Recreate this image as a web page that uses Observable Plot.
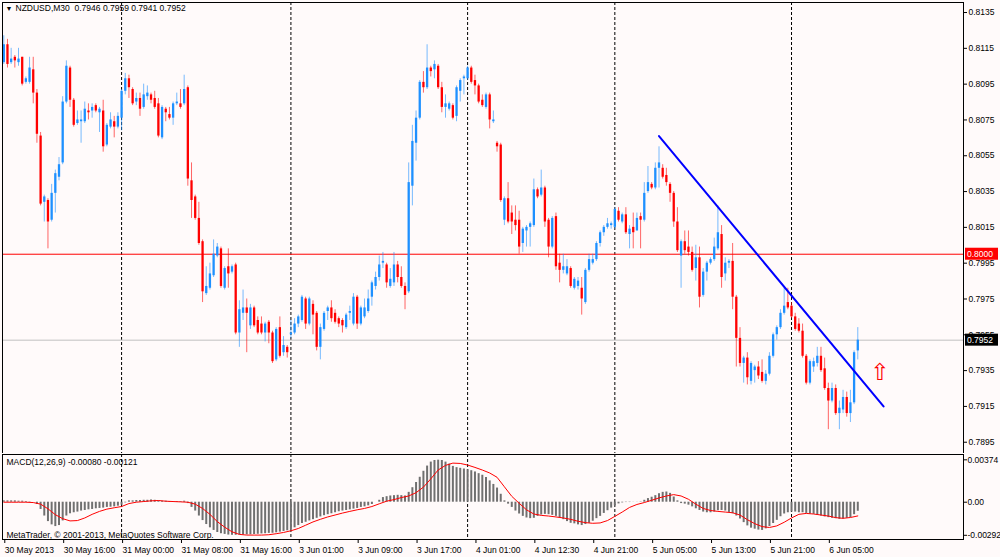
<!DOCTYPE html>
<html><head><meta charset="utf-8">
<script src="https://cdn.jsdelivr.net/npm/d3@7"></script>
<script src="https://cdn.jsdelivr.net/npm/@observablehq/plot@0.6"></script>
<style>
html,body{margin:0;padding:0;background:#fffafa;}
#chart{position:relative;width:1000px;height:557px;overflow:hidden;background:#fffafa;}
#chart svg{position:absolute;left:0;}
</style></head><body><div id="chart"></div>
<script>
// ---- price data (M30 bars, index 0 = 30 May 08:00) ----
const open = [
0.8107,0.8117,0.8107,0.8110,0.8107,0.8110,0.8096,0.8096,0.8103,0.8090,
0.8066,0.8029,0.8030,0.8019,0.8034,0.8043,0.8051,0.8085,0.8104,0.8086,
0.8073,0.8074,0.8074,0.8080,0.8080,0.8083,0.8079,0.8080,0.8061,0.8071,
0.8074,0.8071,0.8076,0.8091,0.8098,0.8092,0.8085,0.8087,0.8082,0.8088,
0.8089,0.8087,0.8084,0.8065,0.8081,0.8078,0.8076,0.8084,0.8084,0.8084,
0.8093,0.8041,0.8032,0.8020,0.8007,0.7978,0.7981,0.7988,0.7999,0.8003,
0.7981,0.7993,0.7990,0.7994,0.7956,0.7967,0.7970,0.7960,0.7970,0.7963,
0.7961,0.7956,0.7962,0.7956,0.7941,0.7959,0.7945,0.7948,0.7955,0.7956,
0.7961,0.7963,0.7975,0.7961,0.7972,0.7967,0.7948,0.7958,0.7968,0.7970,
0.7967,0.7964,0.7963,0.7959,0.7967,0.7961,0.7976,0.7961,0.7965,0.7968,
0.7976,0.7982,0.7987,0.7995,0.7994,0.7982,0.7984,0.7994,0.7987,0.7982,
0.7979,0.8038,0.8062,0.8076,0.8096,0.8093,0.8104,0.8103,0.8105,0.8093,
0.8082,0.8081,0.8083,0.8077,0.8091,0.8098,0.8098,0.8104,0.8097,0.8094,
0.8086,0.8082,0.8089,0.8074,0.8062,0.8061,0.8019,0.8031,0.8023,0.8019,
0.8019,0.8006,0.8013,0.8015,0.8016,0.8036,0.8033,0.8037,0.8019,0.8004,
0.8021,0.7995,0.7991,0.7989,0.7992,0.7981,0.7982,0.7981,0.7973,0.7991,
0.7995,0.7997,0.8006,0.8012,0.8015,0.8016,0.8015,0.8024,0.8018,0.8022,
0.8011,0.8015,0.8013,0.8021,0.8019,0.8035,0.8039,0.8037,0.8048,0.8048,
0.8044,0.8039,0.8034,0.8018,0.7999,0.8007,0.8004,0.8001,0.7992,0.7998,
0.7977,0.7990,0.7995,0.7997,0.8003,0.8011,0.7989,0.7995,0.7996,0.7976,
0.7953,0.7939,0.7942,0.7929,0.7935,0.7937,0.7934,0.7929,0.7933,0.7943,
0.7955,0.7959,0.7967,0.7973,0.7971,0.7965,0.7961,0.7957,0.7943,0.7928,
0.7937,0.7939,0.7943,0.7936,0.7925,0.7918,0.7925,0.7911,0.7913,0.7920,
0.7911,0.7917,0.7946];
const high = [
0.8122,0.8120,0.8115,0.8111,0.8115,0.8110,0.8099,0.8110,0.8110,0.8092,
0.8068,0.8033,0.8031,0.8039,0.8047,0.8054,0.8088,0.8108,0.8105,0.8087,
0.8080,0.8080,0.8085,0.8084,0.8084,0.8084,0.8082,0.8086,0.8073,0.8079,
0.8077,0.8079,0.8092,0.8101,0.8100,0.8093,0.8090,0.8090,0.8095,0.8094,
0.8090,0.8091,0.8087,0.8083,0.8082,0.8082,0.8085,0.8090,0.8092,0.8100,
0.8094,0.8051,0.8033,0.8029,0.8008,0.7993,0.7995,0.8008,0.8006,0.8004,
0.7993,0.8003,0.7994,0.7995,0.7974,0.7980,0.7975,0.7972,0.7971,0.7965,
0.7965,0.7962,0.7963,0.7957,0.7959,0.7965,0.7954,0.7949,0.7963,0.7964,
0.7966,0.7977,0.7976,0.7976,0.7974,0.7968,0.7961,0.7968,0.7971,0.7974,
0.7969,0.7965,0.7964,0.7967,0.7971,0.7978,0.7977,0.7971,0.7975,0.7980,
0.7985,0.7990,0.7999,0.8001,0.7995,0.7992,0.8001,0.7996,0.7993,0.7984,
0.8051,0.8072,0.8080,0.8097,0.8102,0.8117,0.8105,0.8108,0.8106,0.8096,
0.8089,0.8085,0.8084,0.8094,0.8098,0.8100,0.8105,0.8105,0.8100,0.8095,
0.8089,0.8090,0.8090,0.8080,0.8063,0.8062,0.8032,0.8040,0.8027,0.8027,
0.8024,0.8015,0.8016,0.8018,0.8042,0.8037,0.8047,0.8038,0.8020,0.8021,
0.8023,0.8000,0.8000,0.7997,0.7993,0.7987,0.7987,0.7987,0.7992,0.8000,
0.8000,0.8007,0.8013,0.8016,0.8020,0.8018,0.8026,0.8026,0.8023,0.8026,
0.8016,0.8023,0.8023,0.8023,0.8040,0.8049,0.8040,0.8051,0.8060,0.8050,
0.8048,0.8040,0.8035,0.8026,0.8008,0.8013,0.8013,0.8004,0.8005,0.8004,
0.7992,0.7996,0.7998,0.8009,0.8027,0.8016,0.7998,0.7997,0.8006,0.7977,
0.7959,0.7943,0.7945,0.7940,0.7938,0.7940,0.7941,0.7935,0.7945,0.7956,
0.7960,0.7969,0.7981,0.7981,0.7973,0.7967,0.7964,0.7961,0.7944,0.7941,
0.7942,0.7948,0.7948,0.7942,0.7928,0.7928,0.7927,0.7918,0.7924,0.7923,
0.7924,0.7946,0.7959];
const low = [
0.8106,0.8104,0.8106,0.8104,0.8105,0.8094,0.8095,0.8095,0.8084,0.8062,
0.8027,0.8018,0.8003,0.8018,0.8023,0.8041,0.8050,0.8084,0.8082,0.8071,
0.8072,0.8062,0.8073,0.8075,0.8076,0.8079,0.8068,0.8057,0.8060,0.8070,
0.8065,0.8070,0.8069,0.8089,0.8087,0.8083,0.8083,0.8077,0.8081,0.8086,
0.8084,0.8081,0.8065,0.8064,0.8074,0.8075,0.8072,0.8083,0.8081,0.8083,
0.8038,0.8020,0.8019,0.8005,0.7973,0.7977,0.7980,0.7987,0.7998,0.7981,
0.7980,0.7981,0.7989,0.7955,0.7948,0.7963,0.7945,0.7958,0.7959,0.7955,
0.7955,0.7951,0.7950,0.7939,0.7940,0.7942,0.7943,0.7942,0.7953,0.7955,
0.7959,0.7962,0.7958,0.7960,0.7955,0.7946,0.7941,0.7957,0.7963,0.7962,
0.7961,0.7959,0.7956,0.7958,0.7963,0.7960,0.7958,0.7960,0.7964,0.7967,
0.7971,0.7980,0.7985,0.7992,0.7981,0.7981,0.7982,0.7984,0.7981,0.7969,
0.7978,0.8027,0.8052,0.8075,0.8090,0.8092,0.8099,0.8098,0.8092,0.8079,
0.8076,0.8080,0.8075,0.8074,0.8085,0.8089,0.8097,0.8095,0.8089,0.8084,
0.8082,0.8081,0.8070,0.8073,0.8057,0.8029,0.8016,0.8017,0.8011,0.8013,
0.8000,0.8001,0.8004,0.8004,0.8015,0.8031,0.8032,0.8015,0.7998,0.8003,
0.7991,0.7984,0.7989,0.7988,0.7981,0.7980,0.7980,0.7966,0.7972,0.7990,
0.7994,0.7996,0.8004,0.8010,0.8014,0.8014,0.8014,0.8018,0.8017,0.8011,
0.8003,0.8003,0.8013,0.8003,0.8018,0.8034,0.8036,0.8036,0.8037,0.8042,
0.8038,0.8029,0.8015,0.8001,0.7981,0.8000,0.7999,0.7990,0.7985,0.7970,
0.7976,0.7985,0.7994,0.7996,0.8002,0.7981,0.7985,0.7992,0.7969,0.7937,
0.7937,0.7928,0.7927,0.7927,0.7928,0.7930,0.7928,0.7927,0.7932,0.7942,
0.7952,0.7958,0.7966,0.7969,0.7964,0.7957,0.7956,0.7942,0.7927,0.7927,
0.7934,0.7937,0.7934,0.7924,0.7902,0.7917,0.7910,0.7902,0.7911,0.7909,
0.7906,0.7916,0.7941];
const close = [
0.8117,0.8106,0.8109,0.8108,0.8109,0.8095,0.8098,0.8104,0.8090,0.8067,
0.8028,0.8032,0.8018,0.8034,0.8045,0.8050,0.8085,0.8105,0.8086,0.8072,
0.8075,0.8075,0.8081,0.8079,0.8082,0.8080,0.8081,0.8060,0.8072,0.8075,
0.8071,0.8077,0.8091,0.8098,0.8093,0.8084,0.8087,0.8081,0.8089,0.8090,
0.8086,0.8082,0.8066,0.8082,0.8079,0.8076,0.8084,0.8085,0.8082,0.8092,
0.8042,0.8030,0.8020,0.8006,0.7979,0.7982,0.7989,0.8000,0.8004,0.7982,
0.7992,0.7989,0.7993,0.7956,0.7969,0.7970,0.7967,0.7970,0.7960,0.7956,
0.7956,0.7961,0.7956,0.7940,0.7958,0.7943,0.7949,0.7945,0.7956,0.7961,
0.7965,0.7976,0.7961,0.7975,0.7966,0.7948,0.7959,0.7967,0.7970,0.7964,
0.7962,0.7961,0.7960,0.7966,0.7968,0.7976,0.7961,0.7970,0.7970,0.7975,
0.7984,0.7987,0.7994,0.7996,0.7984,0.7986,0.7994,0.7987,0.7982,0.7977,
0.8040,0.8063,0.8076,0.8096,0.8093,0.8104,0.8102,0.8106,0.8093,0.8082,
0.8084,0.8084,0.8076,0.8093,0.8097,0.8099,0.8104,0.8096,0.8094,0.8085,
0.8083,0.8089,0.8075,0.8075,0.8060,0.8030,0.8031,0.8018,0.8018,0.8016,
0.8004,0.8014,0.8015,0.8017,0.8036,0.8032,0.8037,0.8018,0.8004,0.8020,
0.7993,0.7991,0.7993,0.7993,0.7982,0.7986,0.7985,0.7975,0.7991,0.7997,
0.7997,0.8006,0.8012,0.8015,0.8017,0.8017,0.8025,0.8019,0.8022,0.8012,
0.8014,0.8012,0.8020,0.8019,0.8034,0.8040,0.8037,0.8048,0.8051,0.8043,
0.8040,0.8034,0.8018,0.8002,0.8007,0.8002,0.8001,0.7991,0.7998,0.7976,
0.7990,0.7995,0.7997,0.8004,0.8012,0.7987,0.7995,0.7996,0.7976,0.7953,
0.7939,0.7942,0.7931,0.7939,0.7937,0.7932,0.7929,0.7933,0.7943,0.7955,
0.7959,0.7967,0.7971,0.7970,0.7965,0.7958,0.7957,0.7943,0.7928,0.7940,
0.7940,0.7943,0.7935,0.7925,0.7918,0.7925,0.7911,0.7914,0.7920,0.7911,
0.7917,0.7945,0.7952];

// ---- MACD(12,26,9): main (histogram) per bar, signal every 2nd bar ----
const macdHist = [
0.00012,0.00012,0.00012,0.00012,0.00009,0.00009,0.00006,0.00003,0.00000,-0.00020,
-0.00064,-0.00122,-0.00171,-0.00200,-0.00215,-0.00206,-0.00165,-0.00122,-0.00102,-0.00093,
-0.00087,-0.00078,-0.00073,-0.00067,-0.00064,-0.00058,-0.00055,-0.00052,-0.00046,-0.00044,
-0.00041,-0.00035,-0.00026,-0.00006,0.00012,0.00012,0.00015,0.00015,0.00017,0.00017,
0.00020,0.00017,0.00012,0.00009,0.00009,0.00006,0.00006,0.00006,0.00006,0.00009,
-0.00012,-0.00046,-0.00078,-0.00122,-0.00162,-0.00197,-0.00226,-0.00249,-0.00267,-0.00278,
-0.00284,-0.00290,-0.00292,-0.00292,-0.00290,-0.00289,-0.00288,-0.00287,-0.00285,-0.00283,
-0.00280,-0.00278,-0.00275,-0.00274,-0.00270,-0.00264,-0.00258,-0.00252,-0.00244,-0.00226,
-0.00206,-0.00188,-0.00177,-0.00165,-0.00154,-0.00142,-0.00130,-0.00119,-0.00110,-0.00102,
-0.00093,-0.00084,-0.00078,-0.00073,-0.00067,-0.00061,-0.00055,-0.00046,-0.00041,-0.00032,
-0.00020,0.00000,0.00017,0.00041,0.00049,0.00055,0.00058,0.00061,0.00058,0.00055,
0.00087,0.00128,0.00174,0.00220,0.00273,0.00319,0.00354,0.00368,0.00371,0.00368,
0.00354,0.00336,0.00316,0.00305,0.00299,0.00293,0.00287,0.00278,0.00267,0.00252,
0.00238,0.00218,0.00188,0.00157,0.00125,0.00070,0.00012,-0.00017,-0.00046,-0.00078,
-0.00104,-0.00125,-0.00139,-0.00145,-0.00142,-0.00125,-0.00113,-0.00107,-0.00110,-0.00116,
-0.00125,-0.00136,-0.00154,-0.00171,-0.00186,-0.00191,-0.00200,-0.00206,-0.00197,-0.00186,
-0.00168,-0.00145,-0.00125,-0.00099,-0.00075,-0.00052,-0.00032,-0.00015,-0.00006,-0.00003,
-0.00003,-0.00001,-0.00001,0.00003,0.00017,0.00032,0.00044,0.00058,0.00075,0.00087,
0.00090,0.00078,0.00046,0.00012,-0.00012,-0.00017,-0.00026,-0.00041,-0.00058,-0.00073,
-0.00087,-0.00093,-0.00093,-0.00087,-0.00075,-0.00073,-0.00078,-0.00090,-0.00102,-0.00122,
-0.00148,-0.00180,-0.00209,-0.00229,-0.00238,-0.00246,-0.00249,-0.00235,-0.00215,-0.00188,
-0.00160,-0.00128,-0.00104,-0.00093,-0.00087,-0.00087,-0.00093,-0.00093,-0.00099,-0.00104,
-0.00107,-0.00116,-0.00122,-0.00130,-0.00136,-0.00142,-0.00145,-0.00151,-0.00148,-0.00142,
-0.00136,-0.00110,-0.00080];
const macdSignal = [ // bars 0,2,4,...,232
0.00000,0.00000,0.00000,0.00000,-0.00003,-0.00017,-0.00058,-0.00110,-0.00145,-0.00165,
-0.00162,-0.00139,-0.00107,-0.00081,-0.00061,-0.00049,-0.00038,-0.00012,0.00000,0.00006,
0.00012,0.00015,0.00009,0.00006,0.00003,0.00000,-0.00017,-0.00055,-0.00107,-0.00171,
-0.00220,-0.00261,-0.00284,-0.00290,-0.00290,-0.00290,-0.00287,-0.00278,-0.00267,-0.00252,
-0.00232,-0.00203,-0.00174,-0.00151,-0.00130,-0.00113,-0.00096,-0.00081,-0.00067,-0.00055,
-0.00038,-0.00014,0.00009,0.00023,0.00041,0.00055,0.00084,0.00133,0.00206,0.00284,
0.00325,0.00345,0.00342,0.00328,0.00307,0.00284,0.00258,0.00220,0.00136,0.00052,
-0.00009,-0.00067,-0.00104,-0.00116,-0.00122,-0.00130,-0.00139,-0.00151,-0.00168,-0.00180,
-0.00186,-0.00183,-0.00162,-0.00125,-0.00087,-0.00046,-0.00020,-0.00003,0.00017,0.00038,
0.00055,0.00067,0.00055,0.00026,-0.00017,-0.00055,-0.00073,-0.00081,-0.00087,-0.00093,
-0.00113,-0.00154,-0.00189,-0.00215,-0.00223,-0.00209,-0.00177,-0.00139,-0.00107,-0.00099,
-0.00104,-0.00113,-0.00122,-0.00136,-0.00142,-0.00135,-0.00121];

// ---- axes / annotations ----
const separatorBars = [32, 78, 126, 166, 214];
const timeTickBars = [0,16,32,48,64,80,96,112,128,144,160,176,192,208,224];
const timeTickLabels = ["30 May 2013","30 May 16:00","31 May 00:00","31 May 08:00","31 May 16:00",
  "3 Jun 01:00","3 Jun 09:00","3 Jun 17:00","4 Jun 01:00","4 Jun 12:30","4 Jun 21:00",
  "5 Jun 05:00","5 Jun 13:00","5 Jun 21:00","6 Jun 05:00"];
const priceTicks = [0.7895,0.7915,0.7935,0.7955,0.7975,0.7995,0.8015,0.8035,0.8055,0.8075,0.8095,0.8115,0.8135];
const macdTicks = [-0.00292, 0, 0.00374];
const macdTickLabels = ["-0.00292","0.00","0.00374"];
const levelLine = 0.8000;
const bidLine = 0.7952;
const trendLine = [{bar:178, price:0.8066},{bar:239, price:0.7915}];
const arrowMark = [{bar:238, price:0.79337}];
const symbolTitle = "NZDUSD,M30\u00a0 0.7946 0.7959 0.7941 0.7952";
const macdTitle = "MACD(12,26,9) -0.00080 -0.00121";
const copyright = "MetaTrader, \u00a9 2001-2013, MetaQuotes Software Corp.";

const FONT = '"Liberation Sans", Arial, sans-serif';
const FS = "8.5px";
const BULL = "#1e90ff", BEAR = "#ff0000";
const xDomain = [-0.35, 260.72];

const bars = close.map((c, i) => ({i, o: open[i], h: high[i], l: low[i], c, up: c >= open[i]}));
const bulls = bars.filter(d => d.up), bears = bars.filter(d => !d.up);
const histData = macdHist.map((v, i) => ({i, v}));
const sigData = macdSignal.map((v, k) => ({i: 2 * k, v}));
const timeLabel = new Map(timeTickBars.map((b, k) => [b, timeTickLabels[k]]));
const macdLabel = new Map(macdTicks.map((t, k) => [t, macdTickLabels[k]]));

const main = Plot.plot({
  width: 1000, height: 453, marginLeft: 2, marginRight: 37, marginTop: 2, marginBottom: 0,
  style: {background: "#fffafa", fontFamily: FONT, fontSize: FS, color: "black"},
  x: {domain: xDomain, axis: null, label: null},
  y: {domain: [0.78887, 0.81406], axis: null, label: null},
  marks: [
    Plot.ruleX(separatorBars, {stroke: "black", strokeDasharray: "3,2"}),
    Plot.ruleY([levelLine], {stroke: "#ff0000"}),
    Plot.ruleY([bidLine], {stroke: "#c0c0c0"}),
    Plot.ruleX(bulls, {x: "i", y1: "l", y2: "h", stroke: BULL, strokeOpacity: 0.6}),
    Plot.ruleX(bears, {x: "i", y1: "l", y2: "h", stroke: BEAR, strokeOpacity: 0.6}),
    Plot.ruleX(bulls, {x: "i", y1: "o", y2: "c", stroke: BULL, strokeWidth: 2.3}),
    Plot.ruleX(bears, {x: "i", y1: "o", y2: "c", stroke: BEAR, strokeWidth: 2.3}),
    Plot.line(trendLine, {x: "bar", y: "price", stroke: "#0000ff", strokeWidth: 2}),
    Plot.text(arrowMark, {x: "bar", y: "price", text: () => "\u21e7", fill: "#ff0000",
      fontSize: 23, fontFamily: "DejaVu Sans"}),
    Plot.axisY(priceTicks, {anchor: "right", label: null, tickFormat: d3.format(".4f"), tickSize: 3, tickPadding: 2}),
    Plot.frame({stroke: "black"}),
    Plot.text(["\u25bc"], {frameAnchor: "top-left", dx: 3, dy: 4, text: d => d, fontSize: 7, fill: "black"}),
    Plot.text([symbolTitle], {frameAnchor: "top-left", dx: 13, dy: 2, text: d => d, fill: "black"})
  ]
});
main.style.top = "0px";

const ys = main.scale("y");
const sel = d3.select(main);
[[levelLine, "#ff0000"], [bidLine, "#000000"]].forEach(([v, col]) => {
  const y = ys.apply(v);
  sel.append("rect").attr("x", 965).attr("y", y - 6).attr("width", 33).attr("height", 12).attr("fill", col);
  sel.append("text").attr("x", 967).attr("y", y).attr("dy", "0.35em").attr("fill", "white")
    .attr("text-anchor", "start")
    .style("font-family", FONT).style("font-size", FS).text(d3.format(".4f")(v));
});

const macd = Plot.plot({
  width: 1000, height: 104, marginLeft: 2, marginRight: 37, marginTop: 1, marginBottom: 18,
  style: {background: "#fffafa", fontFamily: FONT, fontSize: FS, color: "black"},
  x: {domain: xDomain, axis: null, label: null},
  y: {domain: [-0.00329, 0.00421], axis: null, label: null},
  marks: [
    Plot.ruleX(separatorBars, {stroke: "black", strokeDasharray: "3,2"}),
    Plot.ruleX(histData, {x: "i", y1: 0, y2: "v", stroke: "#707070", strokeWidth: 2}),
    Plot.line(sigData, {x: "i", y: "v", stroke: "#ff0000", strokeWidth: 1}),
    Plot.axisY(macdTicks, {anchor: "right", label: null, tickFormat: d => macdLabel.get(d), tickSize: 3, tickPadding: 1}),
    Plot.axisX(timeTickBars, {anchor: "bottom", label: null, tickFormat: d => timeLabel.get(d), tickSize: 4,
      tickPadding: 3, textAnchor: "start", dx: 1}),
    Plot.frame({stroke: "black"}),
    Plot.text([macdTitle], {frameAnchor: "top-left", dx: 4, dy: 4, text: d => d, fill: "black"}),
    Plot.text([copyright], {frameAnchor: "bottom-left", dx: 4, dy: -2, text: d => d, fill: "black"})
  ]
});
macd.style.top = "453px";

const chart = document.getElementById("chart");
chart.appendChild(main);
chart.appendChild(macd);
</script>
</body></html>
